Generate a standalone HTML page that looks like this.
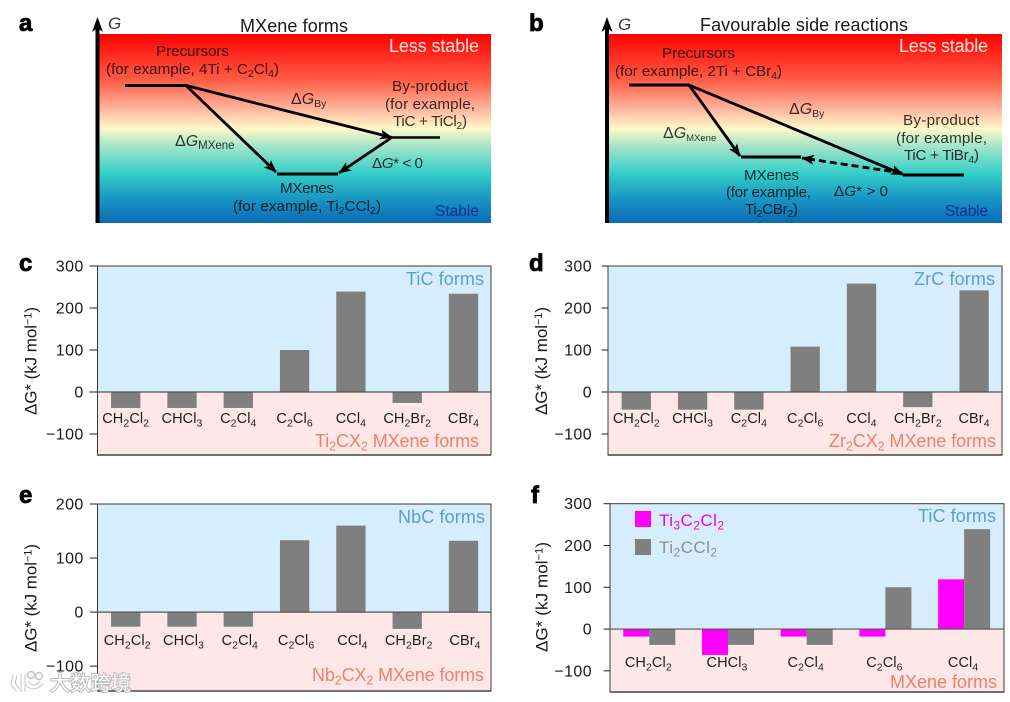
<!DOCTYPE html>
<html>
<head>
<meta charset="utf-8">
<style>
html,body{margin:0;padding:0;background:#fff;width:1010px;height:702px;overflow:hidden}
svg{display:block}
text{font-family:"Liberation Sans","Noto Sans CJK SC",sans-serif;font-size:15.2px;fill:#000;fill-opacity:.78}
.s{font-size:10.5px}
.p{font-size:24px;font-weight:bold;fill:#000;fill-opacity:1;stroke:#000;stroke-width:.8}
.i{font-style:italic}
.t{font-size:18px;fill-opacity:.9}
.less{font-size:18px;fill:#ffe6d8;fill-opacity:1}
.stable{font-size:15.5px;fill:#0b2f9c;fill-opacity:1}
</style>
</head>
<body>
<svg id="fig" xmlns="http://www.w3.org/2000/svg" width="1010" height="702" viewBox="0 0 1010 702">
<defs>
<linearGradient id="energy" x1="0" y1="0" x2="0" y2="1">
<stop offset="0" stop-color="#ff0000"/>
<stop offset=".25" stop-color="#ff6048"/>
<stop offset=".40" stop-color="#ffb8a0"/>
<stop offset=".50" stop-color="#fff8c8"/>
<stop offset=".60" stop-color="#a0e4c8"/>
<stop offset=".74" stop-color="#32cdc8"/>
<stop offset=".87" stop-color="#1a96c4"/>
<stop offset="1" stop-color="#0a6bb4"/>
</linearGradient>
<marker id="ah" markerWidth="13" markerHeight="10" refX="12" refY="5" orient="auto" markerUnits="userSpaceOnUse"><path d="M0 0 L13 5 L0 10 L3 5 Z" fill="#000"/></marker>
</defs>

<g>
<text class="p" x="19" y="31">a</text>
<rect x="98" y="34" width="393" height="189" fill="url(#energy)"/>
<rect x="95.5" y="26" width="4" height="197" fill="#000"/>
<path d="M97.5 17 L103 32 L97.5 28 L92 32 Z" fill="#000"/>
<text class="i" x="108" y="29" style="font-size:17px">G</text>
<text class="t" x="240" y="32" textLength="108">MXene forms</text>
<text class="less" x="389" y="52" textLength="90">Less stable</text>
<text class="stable" x="435" y="216" textLength="44">Stable</text>
<line x1="125" y1="85.5" x2="187" y2="85.5" stroke="#000" stroke-width="3"/>
<line x1="277" y1="174" x2="338" y2="174" stroke="#000" stroke-width="3"/>
<line x1="390" y1="137.5" x2="440" y2="137.5" stroke="#000" stroke-width="2.5"/>
<line x1="186" y1="85.5" x2="276" y2="172" stroke="#000" stroke-width="2.8" marker-end="url(#ah)"/>
<line x1="186" y1="85.5" x2="392" y2="137.5" stroke="#000" stroke-width="2.8" marker-end="url(#ah)"/>
<line x1="391" y1="138" x2="339" y2="173" stroke="#000" stroke-width="2.8" marker-end="url(#ah)"/>
<text x="156" y="56" textLength="73">Precursors</text>
<text x="106" y="74" textLength="173">(for example, 4Ti + C<tspan class="s" dy="3">2</tspan><tspan dy="-3">Cl</tspan><tspan class="s" dy="3">4</tspan><tspan dy="-3">)</tspan></text>
<text x="291" y="104" style="font-size:16px">Δ<tspan class="i">G</tspan><tspan class="s" dy="3">By</tspan></text>
<text x="392" y="91" textLength="76">By-product</text>
<text x="385" y="109" textLength="90">(for example,</text>
<text x="393" y="126" textLength="74">TiC + TiCl<tspan class="s" dy="3">2</tspan><tspan dy="-3">)</tspan></text>
<text x="372" y="168" textLength="51">Δ<tspan class="i">G</tspan>* &lt; 0</text>
<text x="175" y="146" style="font-size:16px">Δ<tspan class="i">G</tspan><tspan style="font-size:11.5px" dy="3">MXene</tspan></text>
<text x="280" y="193" textLength="54">MXenes</text>
<text x="233" y="211" textLength="148">(for example, Ti<tspan class="s" dy="3">2</tspan><tspan dy="-3">CCl</tspan><tspan class="s" dy="3">2</tspan><tspan dy="-3">)</tspan></text>
</g>

<g>
<text class="p" x="529" y="31">b</text>
<rect x="607" y="34" width="395" height="189" fill="url(#energy)"/>
<rect x="605" y="26" width="4" height="197" fill="#000"/>
<path d="M607 17 L612.5 32 L607 28 L601.5 32 Z" fill="#000"/>
<text class="i" x="618" y="30" style="font-size:17px">G</text>
<text class="t" x="700" y="31" textLength="208">Favourable side reactions</text>
<text class="less" x="899" y="52" textLength="89">Less stable</text>
<text class="stable" x="945" y="216" textLength="43">Stable</text>
<line x1="629" y1="85" x2="690" y2="85" stroke="#000" stroke-width="3"/>
<line x1="741" y1="157" x2="801" y2="157" stroke="#000" stroke-width="3"/>
<line x1="903" y1="175" x2="964" y2="175" stroke="#000" stroke-width="3"/>
<line x1="689" y1="85" x2="740" y2="156" stroke="#000" stroke-width="2.8" marker-end="url(#ah)"/>
<line x1="689" y1="85" x2="903" y2="174.5" stroke="#000" stroke-width="2.8" marker-end="url(#ah)"/>
<line x1="902" y1="173" x2="802" y2="158" stroke="#000" stroke-width="2.8" stroke-dasharray="7 4" marker-end="url(#ah)"/>
<text x="662" y="58" textLength="73">Precursors</text>
<text x="615" y="76" textLength="167">(for example, 2Ti + CBr<tspan class="s" dy="3">4</tspan><tspan dy="-3">)</tspan></text>
<text x="789" y="114" style="font-size:16px">Δ<tspan class="i">G</tspan><tspan class="s" dy="3">By</tspan></text>
<text x="663" y="138" style="font-size:16px">Δ<tspan class="i">G</tspan><tspan style="font-size:9.5px" dy="3">MXene</tspan></text>
<text x="903" y="125" textLength="76">By-product</text>
<text x="896" y="143" textLength="91">(for example,</text>
<text x="904" y="160" textLength="75">TiC + TiBr<tspan class="s" dy="3">4</tspan><tspan dy="-3">)</tspan></text>
<text x="744" y="180" textLength="55">MXenes</text>
<text x="726" y="197" textLength="85">(for example,</text>
<text x="745" y="214" textLength="53">Ti<tspan class="s" dy="3">2</tspan><tspan dy="-3">CBr</tspan><tspan class="s" dy="3">2</tspan><tspan dy="-3">)</tspan></text>
<text x="834" y="196" textLength="54">Δ<tspan class="i">G</tspan>* &gt; 0</text>
</g>

<g id="charts"></g>

<g>
<path d="M15 675 L13 684 L18 690 M23 674 L23 692 M26 682 Q33 692 42 682" fill="none" stroke="#c4c4c4" stroke-width="5"/>
<path d="M15 675 L13 684 L18 690 M23 674 L23 692 M26 682 Q33 692 42 682" fill="none" stroke="#fff" stroke-width="3"/>
<circle cx="31" cy="675" r="3.5" fill="none" stroke="#c4c4c4" stroke-width="1.5"/>
<circle cx="39" cy="676" r="3.5" fill="none" stroke="#c4c4c4" stroke-width="1.5"/>
<text x="50" y="690" textLength="81" style="font-size:20px;fill:#fff;fill-opacity:1;stroke:#bcbcbc;stroke-width:2;paint-order:stroke">大数跨境</text>
</g>
</svg>

<script>
// ---- chart data ----
const categories = ["CH_2Cl_2", "CHCl_3", "C_2Cl_4", "C_2Cl_6", "CCl_4", "CH_2Br_2", "CBr_4"];
const valuesC = [-38, -38, -38, 100, 239, -26, 234];
const valuesD = [-42, -42, -42, 108, 258, -36, 242];
const valuesE = [-27, -27, -27, 133, 160, -31, 132];
const categoriesF = ["CH_2Cl_2", "CHCl_3", "C_2Cl_4", "C_2Cl_6", "CCl_4"];
const valuesTi3C2Cl2 = [-18, -62, -18, -18, 119];
const valuesTi2CCl2 = [-38, -38, -38, 100, 239];
const ticksWide = [300, 200, 100, 0, -100];
const ticksNarrow = [200, 100, 0, -100];

const NS = "http://www.w3.org/2000/svg";
const root = document.getElementById("charts");

function make(tag, parent, attrs) {
  const el = document.createElementNS(NS, tag);
  for (const k in attrs) el.setAttribute(k, attrs[k]);
  parent.appendChild(el);
  return el;
}

// writes "A_2B^x" style strings as real text with sub/superscript tspans
function rich(el, str, subSize) {
  const parts = str.split(/([_^]\{[^}]*\}|[_^].)/);
  let shift = 0;
  parts.forEach(function (p) {
    if (!p) return;
    const t = document.createElementNS(NS, "tspan");
    let want = 0, txt = p;
    if (p[0] === "_" || p[0] === "^") {
      want = p[0] === "_" ? 3.5 : -5;
      txt = p.slice(1).replace(/[{}]/g, "");
      t.setAttribute("style", "font-size:" + subSize + "px");
    }
    if (want !== shift) { t.setAttribute("dy", want - shift); shift = want; }
    t.textContent = txt;
    el.appendChild(t);
  });
}

function drawChart(c) {
  const g = make("g", root, {});
  
  

  const yScale = function (v) {
    return c.bottom + (v - c.domain[0]) / (c.domain[1] - c.domain[0]) * (c.top - c.bottom);
  };
  const xScale = function (i) { return c.x0 + c.step * i; };
  const zero = yScale(0);

  const upper = make("rect", g, { x: c.left, y: c.top, width: c.right - c.left, height: zero - c.top, fill: "#d5edfc" });
  
  
  const lower = make("rect", g, { x: c.left, y: zero, width: c.right - c.left, height: c.bottom - zero, fill: "#fde7e7" });
  
  

  const panel = make("text", g, { class: "p", x: c.px, y: c.py });
  
  
  panel.textContent = c.id;

  c.series.forEach(function (s, si) {
    s.values.forEach(function (v, i) {
      const cx = xScale(i) + s.offset;
      const y = yScale(Math.max(v, 0));
      const h = Math.abs(yScale(v) - zero);
      const bar = make("rect", g, { x: cx - c.barW / 2, y: y, width: c.barW, height: h, fill: s.color });
      
      
    });
  });

  const frame = make("rect", g, { x: c.left, y: c.top, width: c.right - c.left, height: c.bottom - c.top, fill: "none", stroke: "#3a3a3a", "stroke-width": 1 });
  
  

  const base = make("line", g, { x1: c.left, x2: c.right, y1: c.bottom, y2: c.bottom, stroke: "#444", "stroke-width": 1.6 });
  
  

  const zeroLine = make("line", g, { x1: c.left, x2: c.right, y1: zero, y2: zero, stroke: "#555", "stroke-width": 1.2 });
  
  

  c.ticks.forEach(function (v) {
    const y = yScale(v);
    const tick = make("line", g, { x1: c.left - c.tickLen, x2: c.left, y1: y, y2: y, stroke: "#222", "stroke-width": 1 });
    
    
    const lab = make("text", g, { x: c.tickRight, y: y + 5.5, "text-anchor": "end", style: "font-size:16px;letter-spacing:.4px;fill-opacity:.9" });
    
    
    lab.textContent = String(v).replace("-", "\u2212");
  });

  c.cats.forEach(function (name, i) {
    const lab = make("text", g, { x: xScale(i) + c.catShift, y: c.catY, "text-anchor": "middle", style: "font-size:14.5px;letter-spacing:.1px;fill-opacity:.88" });
    
    
    rich(lab, name, 10.5);
  });

  const title = make("text", g, { transform: "translate(" + c.titleX + "," + c.titleY + ") rotate(-90)", "text-anchor": "middle", textLength: c.titleLen, style: "font-size:17px;fill-opacity:.9" });
  
  
  rich(title, "\u0394G* (kJ mol^{\u22121})", 11);

  const zoneTop = make("text", g, { x: c.zoneTopX, y: c.zoneTopY, "text-anchor": "end", textLength: c.zoneTopLen, style: "font-size:18px;fill:#5a9fd2;fill-opacity:1" });
  
  
  zoneTop.textContent = c.zoneTop;

  const zoneBot = make("text", g, { x: c.zoneBotX, y: c.zoneBotY, "text-anchor": "end", textLength: c.zoneBotLen, style: "font-size:18px;fill:#f0806c;fill-opacity:1" });
  
  
  rich(zoneBot, c.zoneBot, 12.5);

  return g;
}

drawChart({
  id: "c", left: 97.5, right: 491, top: 266, bottom: 455, domain: [-150, 300], ticks: ticksWide,
  x0: 125.7, step: 56.3, barW: 29.3, cats: categories, catY: 423, catShift: 0,
  series: [{ values: valuesC, color: "#7f7f7f", offset: 0 }],
  tickLen: 8, tickRight: 83.7,
  px: 19, py: 271, titleX: 36.5, titleY: 361, titleLen: 108,
  zoneTop: "TiC forms", zoneTopX: 484, zoneTopY: 285, zoneTopLen: 78,
  zoneBot: "Ti_2CX_2 MXene forms", zoneBotX: 479, zoneBotY: 447, zoneBotLen: 164
});
drawChart({
  id: "d", left: 608, right: 1002, top: 266, bottom: 455, domain: [-150, 300], ticks: ticksWide,
  x0: 636.3, step: 56.3, barW: 29.3, cats: categories, catY: 423, catShift: 0,
  series: [{ values: valuesD, color: "#7f7f7f", offset: 0 }],
  tickLen: 6.5, tickRight: 592,
  px: 529, py: 271, titleX: 547, titleY: 361, titleLen: 108,
  zoneTop: "ZrC forms", zoneTopX: 995, zoneTopY: 285, zoneTopLen: 81,
  zoneBot: "Zr_2CX_2 MXene forms", zoneBotX: 996, zoneBotY: 447, zoneBotLen: 167
});
drawChart({
  id: "e", left: 97.5, right: 491, top: 504, bottom: 691, domain: [-146, 200], ticks: ticksNarrow,
  x0: 125.7, step: 56.3, barW: 29.3, cats: categories, catY: 645, catShift: 1.5,
  series: [{ values: valuesE, color: "#7f7f7f", offset: 0 }],
  tickLen: 7.5, tickRight: 83.7,
  px: 19, py: 503, titleX: 36.5, titleY: 598, titleLen: 108,
  zoneTop: "NbC forms", zoneTopX: 485, zoneTopY: 523, zoneTopLen: 87,
  zoneBot: "Nb_2CX_2 MXene forms", zoneBotX: 484, zoneBotY: 681, zoneBotLen: 172
});
const chartF = drawChart({
  id: "f", left: 610, right: 1004, top: 503.7, bottom: 692, domain: [-150.7, 300], ticks: ticksWide,
  x0: 649.3, step: 78.7, barW: 26, cats: categoriesF, catY: 667, catShift: -1,
  series: [
    { values: valuesTi3C2Cl2, color: "#ff00ff", offset: -13 },
    { values: valuesTi2CCl2, color: "#7f7f7f", offset: 13 }
  ],
  tickLen: 6.5, tickRight: 592,
  px: 531, py: 503, titleX: 547.5, titleY: 597, titleLen: 110,
  zoneTop: "TiC forms", zoneTopX: 996, zoneTopY: 522, zoneTopLen: 78,
  zoneBot: "MXene forms", zoneBotX: 997, zoneBotY: 688, zoneBotLen: 107
});

const legendG = make("g", chartF, {});



const swatchPink = make("rect", legendG, { x: 635, y: 511, width: 16, height: 16, fill: "#ff00ff" });


const labelPink = make("text", legendG, { x: 659, y: 526, textLength: 65, style: "font-size:17px;fill:#f000f0;fill-opacity:1" });


rich(labelPink, "Ti_3C_2Cl_2", 12);

const swatchGray = make("rect", legendG, { x: 635, y: 539, width: 16, height: 16, fill: "#7f7f7f" });


const labelGray = make("text", legendG, { x: 659, y: 553, textLength: 58, style: "font-size:17px;fill:#8f8f8f;fill-opacity:1" });


rich(labelGray, "Ti_2CCl_2", 12);
</script>
</body>
</html>
